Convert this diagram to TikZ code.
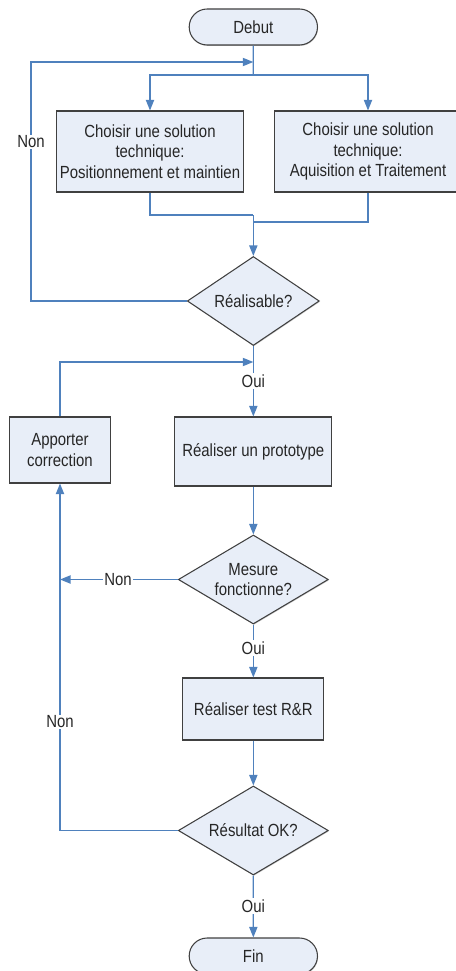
\documentclass[tikz,border=0pt]{standalone}
\usepackage{fontspec}
\setmainfont{Liberation Sans}[FakeStretch=0.85]
\usetikzlibrary{shapes.geometric, shapes.misc, arrows.meta, shadows}

\definecolor{boxfill}{RGB}{232,238,248}
\definecolor{flowblue}{RGB}{79,129,189}
\newcommand{\flowfont}{\fontsize{15pt}{17.5pt}\selectfont}

\begin{document}
\begin{tikzpicture}[
  procbox/.style={
    draw=black!75, fill=boxfill, line width=0.9pt,
    text=black!85, font=\flowfont, align=center, inner sep=2pt,
    drop shadow={shadow xshift=0.5pt, shadow yshift=-0.8pt, fill=black!40}
  },
  decbox/.style={
    procbox, diamond, aspect=1.7, inner sep=0pt,
    minimum width=4.5cm, minimum height=2.67cm
  },
  termbox/.style={
    procbox, rounded rectangle,
    minimum width=3.99cm, minimum height=1.08cm
  },
  arr/.style={-{Triangle[length=9pt, width=7pt]}, line width=1.1pt, flowblue},
  seg/.style={line width=1.1pt, flowblue},
  lbl/.style={fill=white, inner sep=1pt, text=black!85, font=\flowfont}
]
\useasboundingbox (0,0) rectangle (13.65,-29.13);

%% Debut et choix des solutions
\node[termbox] (debut) at (7.6,-0.81) {Debut};

\node[procbox, minimum width=5.61cm, minimum height=2.43cm] (solpos) at (4.5,-4.545)
  {Choisir une solution\\technique:\\Positionnement et maintien};
\node[procbox, minimum width=5.61cm, minimum height=2.43cm] (solacq) at (11.04,-4.545)
  {Choisir une solution\\technique:\\Aquisition et Traitement};

\coordinate (split) at (7.6,-2.25);
\coordinate (retour1) at (7.6,-1.86);
\draw[seg] (debut) -- (split);
\draw[arr] (split) -| (solpos);
\draw[arr] (split) -| (solacq);

%% Faisabilite
\node[decbox, minimum width=3.96cm] (realis) at (7.6,-9.03) {Réalisable?};

\coordinate (merge1) at (7.6,-6.45);
\coordinate (merge2) at (7.6,-6.66);
\draw[seg] (solpos) |- (merge1);
\draw[seg] (solacq) |- (merge2);
\draw[arr] (merge1) -- (realis);

\coordinate (gauche1) at (0.93,-1.86);
\draw[arr] (realis) -| (gauche1) -- (retour1);
\node[lbl] (non1) at (0.93,-4.26) {Non};

%% Prototype et correction
\node[procbox, minimum width=4.71cm, minimum height=2.07cm] (proto) at (7.6,-13.545)
  {Réaliser un prototype};
\node[procbox, minimum width=3.03cm, minimum height=1.98cm] (apport) at (1.8,-13.5)
  {Apporter\\correction};

\coordinate (retour2) at (7.6,-10.86);
\draw[arr] (realis) -- (proto);
\node[lbl] (oui1) at (7.6,-11.43) {Oui};
\draw[arr] (apport) |- (retour2);

%% Mesure
\node[decbox] (mesure) at (7.6,-17.385) {Mesure\\fonctionne?};
\draw[arr] (proto) -- (mesure);
\draw[arr] (mesure) -- (mesure -| apport);
\node[lbl] (non2) at (3.54,-17.385) {Non};

%% Test R&R
\node[procbox, minimum width=4.23cm, minimum height=1.86cm] (testrr) at (7.6,-21.27)
  {Réaliser test R\&R};
\draw[arr] (mesure) -- (testrr);
\node[lbl] (oui2) at (7.6,-19.44) {Oui};

%% Resultat
\node[decbox] (result) at (7.6,-24.915) {Résultat OK?};
\draw[arr] (testrr) -- (result);
\draw[arr] (result) -| (apport);
\node[lbl] (non3) at (1.8,-21.66) {Non};

%% Fin
\node[termbox] (fin) at (7.6,-28.68) {Fin};
\draw[arr] (result) -- (fin);
\node[lbl] (oui3) at (7.6,-27.18) {Oui};

\end{tikzpicture}
\end{document}
